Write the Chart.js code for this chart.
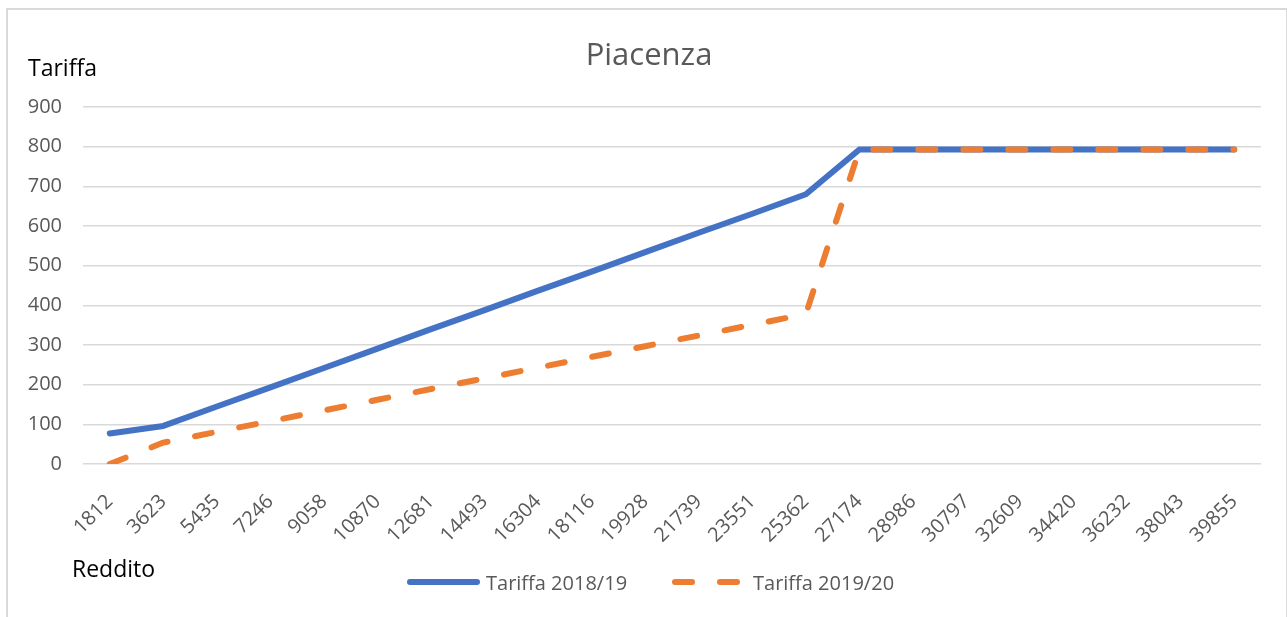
<!DOCTYPE html>
<html lang="it">
<head>
<meta charset="utf-8">
<title>Piacenza</title>
<script src="https://cdn.jsdelivr.net/npm/chart.js@4.4.1/dist/chart.umd.min.js"></script>
<style>
    html, body { margin: 0; padding: 0; background: #ffffff; overflow: hidden; }
    #cornice {
        position: absolute; left: 6px; top: 8px; width: 1282px; height: 640px;
        border: 2px solid #d9d9d9; box-sizing: border-box;
    }
    #contenitore { position: absolute; left: 0; top: 0; width: 1287px; height: 617px; }
</style>
</head>
<body>
<div id="cornice"></div>
<div id="contenitore"><canvas id="grafico"></canvas></div>
<script>
// ============================================
// DATI
// ============================================

const titolo = 'Piacenza';
const titoloAsseY = 'Tariffa';
const titoloAsseX = 'Reddito';

const redditi = [
    '1812', '3623', '5435', '7246', '9058', '10870', '12681', '14493',
    '16304', '18116', '19928', '21739', '23551', '25362', '27174', '28986',
    '30797', '32609', '34420', '36232', '38043', '39855'
];

const tariffa1819 = [
    77, 96, 145, 193, 242, 291, 340, 388,
    437, 485, 534, 583, 631, 680, 793, 793,
    793, 793, 793, 793, 793, 793
];

const tariffa1920 = [
    0, 54, 81, 108, 135, 162, 189, 216,
    243, 270, 297, 324, 351, 378, 793, 793,
    793, 793, 793, 793, 793, 793
];

const tickTariffa = [0, 100, 200, 300, 400, 500, 600, 700, 800, 900];

// ============================================
// STILE
// ============================================

const FONT = "'Open Sans', sans-serif";
const coloreBlu = '#4472C4';
const coloreArancio = '#ED7D31';
const grigioTesto = '#595959';
const grigioGriglia = '#d9d9d9';

Chart.defaults.font.family = FONT;

// posizioni della legenda (inizio campione, fine campione, inizio testo)
const legendaPos = [
    { x0: 410, x1: 477, xt: 486 },
    { x0: 675, x1: 737, xt: 753 }
];

// ============================================
// TESTI: titolo, titoli degli assi, legenda
// ============================================

const pluginTesti = {
    id: 'testi',
    afterDraw(chart) {
        const c = chart.ctx;
        c.save();

        // titolo
        c.font = `31px ${FONT}`;
        c.fillStyle = grigioTesto;
        c.textAlign = 'center';
        c.textBaseline = 'alphabetic';
        c.fillText(titolo, 649, 65);

        // titoli degli assi
        c.font = `23px ${FONT}`;
        c.fillStyle = '#000000';
        c.textAlign = 'left';
        c.fillText(titoloAsseY, 28, 76);
        c.fillText(titoloAsseX, 72, 577);

        // legenda
        c.font = `20px ${FONT}`;
        chart.data.datasets.forEach((ds, i) => {
            const p = legendaPos[i];
            c.beginPath();
            c.strokeStyle = ds.borderColor;
            c.lineWidth = ds.borderWidth;
            c.lineCap = 'round';
            c.setLineDash(ds.borderDash || []);
            c.moveTo(p.x0, 582);
            c.lineTo(p.x1, 582);
            c.stroke();
            c.setLineDash([]);
            c.fillStyle = grigioTesto;
            c.fillText(ds.label, p.xt, 590);
        });

        c.restore();
    }
};

// ============================================
// GRAFICO
// ============================================

const ctx = document.getElementById('grafico');

new Chart(ctx, {
    type: 'line',
    data: {
        labels: redditi,
        datasets: [
            {
                label: 'Tariffa 2018/19',
                data: tariffa1819,
                borderColor: coloreBlu,
                backgroundColor: coloreBlu,
                borderWidth: 6,
                borderCapStyle: 'round',
                borderJoinStyle: 'round',
                pointRadius: 0,
                tension: 0,
                order: 2
            },
            {
                label: 'Tariffa 2019/20',
                data: tariffa1920,
                borderColor: coloreArancio,
                backgroundColor: coloreArancio,
                borderWidth: 6,
                borderDash: [17, 28],
                borderCapStyle: 'round',
                borderJoinStyle: 'round',
                pointRadius: 0,
                tension: 0,
                order: 1
            }
        ]
    },
    options: {
        responsive: true,
        maintainAspectRatio: false,
        animation: false,
        layout: {
            padding: { left: 0, right: 26, top: 107, bottom: 53 }
        },
        plugins: {
            legend: { display: false },
            title: { display: false },
            tooltip: { enabled: false }
        },
        scales: {
            x: {
                offset: true,
                grid: { display: false, drawTicks: false },
                border: { display: false },
                ticks: {
                    color: grigioTesto,
                    font: { size: 20 },
                    maxRotation: 45,
                    minRotation: 45,
                    autoSkip: false,
                    padding: 26
                },
                afterFit: (scala) => { scala.height = 100; }
            },
            y: {
                min: 0,
                max: 900,
                grid: { color: grigioGriglia, lineWidth: 1.5, drawTicks: false },
                border: { display: false },
                ticks: {
                    color: grigioTesto,
                    font: { size: 20 },
                    padding: 21
                },
                afterBuildTicks: (scala) => {
                    scala.ticks = tickTariffa.map(v => ({ value: v }));
                },
                afterFit: (scala) => { scala.width = 83; }
            }
        }
    },
    plugins: [pluginTesti]
});
</script>
</body>
</html>
